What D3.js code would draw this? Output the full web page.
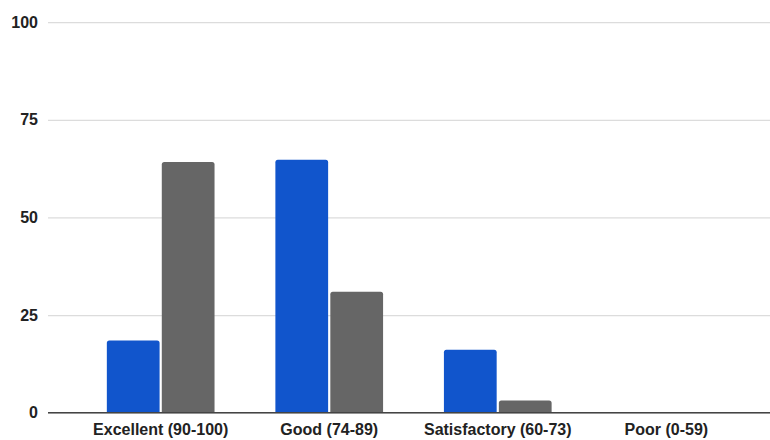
<!DOCTYPE html>
<html>
<head>
<meta charset="utf-8">
<script src="https://cdn.jsdelivr.net/npm/d3@7"></script>
<style>
  html, body { margin: 0; padding: 0; background: #fff; }
  svg { display: block; }
  text { font-family: "Liberation Sans", Arial, sans-serif; }
</style>
</head>
<body>
<svg id="chart" width="770" height="440"></svg>
<script>
const categories = ["Excellent (90-100)", "Good (74-89)", "Satisfactory (60-73)", "Poor (0-59)"];
const seriesNames = ["Series A", "Series B"];
const seriesA = [18.5, 64.8, 16.1, 0];
const seriesB = [64.2, 31.0, 3.1, 0];
const yTicks = [0, 25, 50, 75, 100];
const colors = ["#1155cc", "#666666"];

const W = 770, H = 440;
const svg = d3.select("#chart");
svg.append("rect").attr("width", W).attr("height", H).attr("fill", "#fff");

const gridLeft = 48, gridRight = 770;
const y = d3.scaleLinear().domain([0, 100]).range([412.7, 22.2]);
const x0 = d3.scaleBand().domain(categories).range([76.5, 750.5]).paddingInner(0.361).paddingOuter(0.18);
const x1 = d3.scaleBand().domain(seriesNames).range([0, x0.bandwidth()]).paddingInner(0.04);

// Y axis with gridlines
const yAxis = d3.axisLeft(y).tickValues(yTicks).tickSize(-(gridRight - gridLeft)).tickPadding(10).tickFormat(d3.format("d"));
const gy = svg.append("g").attr("transform", `translate(${gridLeft},0)`).call(yAxis);
gy.select(".domain").remove();
gy.selectAll(".tick line").attr("stroke", "#dcdcdc").attr("stroke-width", 1.3);
gy.selectAll(".tick text").attr("fill", "#222").style("font-size", "16px").style("font-weight", "bold");

// Bars
const data = categories.map((c, i) => ({ cat: c, vals: [seriesA[i], seriesB[i]] }));
const groups = svg.append("g").selectAll("g").data(data).join("g")
  .attr("transform", d => `translate(${x0(d.cat)},0)`);
groups.selectAll("path").data(d => d.vals.map((v, j) => ({ s: seriesNames[j], v, j })))
  .join("path")
  .attr("fill", d => colors[d.j])
  .attr("d", d => {
    const x = x1(d.s), w = x1.bandwidth();
    const yt = y(d.v), yb = y(0);
    const h = yb - yt;
    if (h <= 0) return "";
    const r = Math.min(2.5, h / 2);
    return `M${x},${yb} L${x},${yt + r} Q${x},${yt} ${x + r},${yt} L${x + w - r},${yt} Q${x + w},${yt} ${x + w},${yt + r} L${x + w},${yb} Z`;
  });

// Baseline
svg.append("line").attr("x1", gridLeft).attr("x2", gridRight)
  .attr("y1", y(0)).attr("y2", y(0)).attr("stroke", "#444").attr("stroke-width", 1.5);

// X axis labels
const xAxis = d3.axisBottom(x0).tickSize(0).tickPadding(11);
const gx = svg.append("g").attr("transform", `translate(0,${y(0)})`).call(xAxis);
gx.select(".domain").remove();
gx.selectAll(".tick text").attr("fill", "#222").style("font-size", "16px").style("font-weight", "bold");
</script>
</body>
</html>
